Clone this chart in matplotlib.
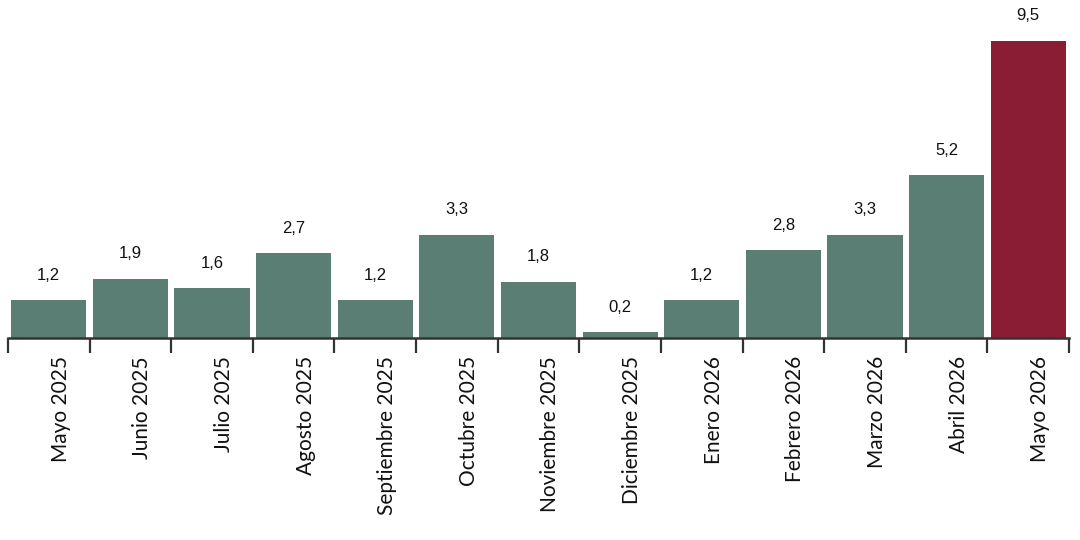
import numpy as np
import matplotlib.pyplot as plt
import matplotlib.transforms as mtransforms

months = ['Mayo 2025', 'Junio 2025', 'Julio 2025', 'Agosto 2025', 'Septiembre 2025',
          'Octubre 2025', 'Noviembre 2025', 'Diciembre 2025', 'Enero 2026',
          'Febrero 2026', 'Marzo 2026', 'Abril 2026', 'Mayo 2026']
values = [1.2, 1.9, 1.6, 2.7, 1.2, 3.3, 1.8, 0.2, 1.2, 2.8, 3.3, 5.2, 9.5]

green = '#5a7d74'
red = '#8a1c34'
colors = [green] * (len(values) - 1) + [red]

fig = plt.figure(figsize=(10.8, 5.4), dpi=100)
ax = fig.add_axes([8 / 1080, 202 / 540, 1061 / 1080, 313 / 540])

x = np.arange(len(values))
ax.bar(x, values, width=0.92, color=colors)

for xi, v in zip(x, values):
    ax.text(xi, v + 0.55, f'{v:.1f}'.replace('.', ','), ha='center', va='bottom',
            fontsize=12, family='Liberation Sans', color='#111111')

ax.set_xlim(-0.5, len(values) - 0.5)
ax.set_ylim(0, 10)

# boundary ticks between bars
ax.set_xticks(np.arange(-0.5, len(values)), minor=True)
ax.tick_params(axis='x', which='minor', length=11, width=1.6, color='#333333', direction='out')
ax.set_xticks(x)
ax.set_xticklabels(months, rotation=90, fontsize=15, family='Lato', color='#111111')
ax.tick_params(axis='x', which='major', length=0, pad=13)

# labels sit a bit right of the bar centres
shift = mtransforms.ScaledTranslation(0.12, 0, fig.dpi_scale_trans)
for lbl in ax.get_xticklabels():
    lbl.set_transform(lbl.get_transform() + shift)

ax.set_yticks([])
for s in ['top', 'right', 'left']:
    ax.spines[s].set_visible(False)
ax.spines['bottom'].set_color('#333333')
ax.spines['bottom'].set_linewidth(1.8)

fig.savefig('out.png', dpi=100)
